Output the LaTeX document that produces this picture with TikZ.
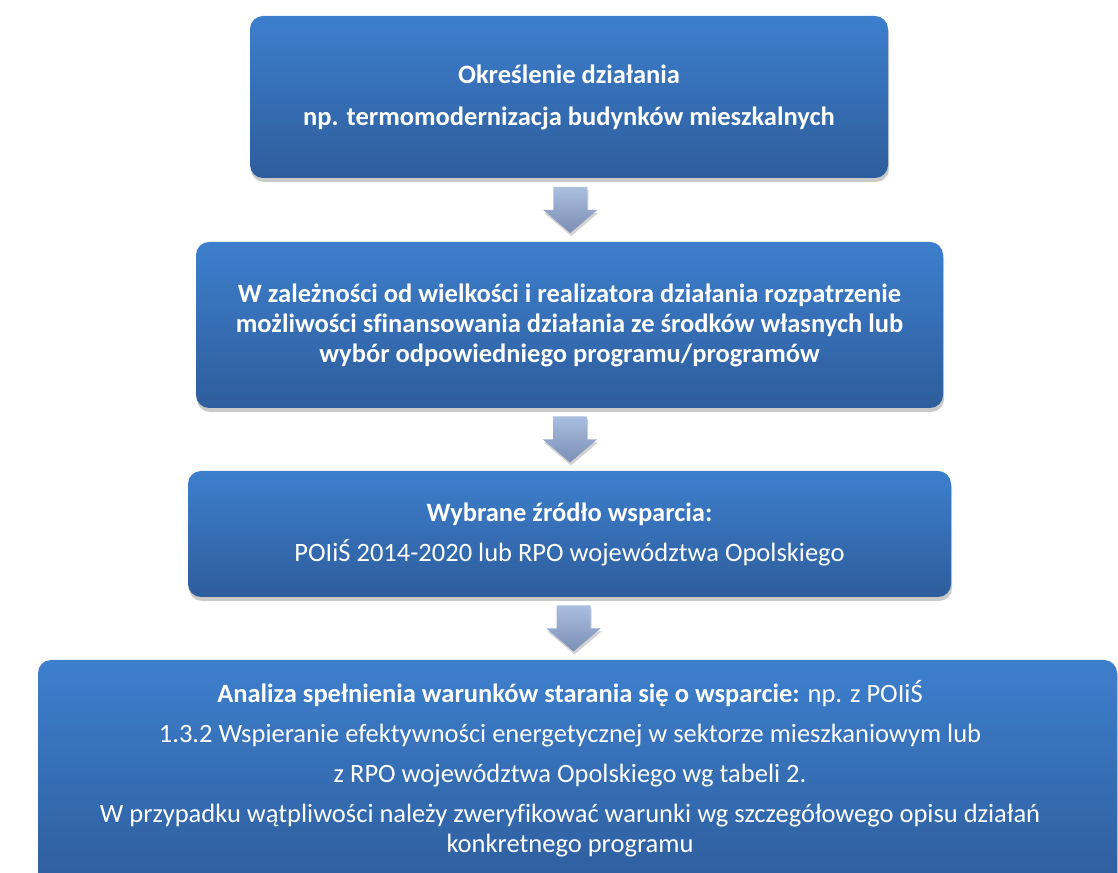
\documentclass[tikz,border=0pt]{standalone}
\usepackage{fontspec}
\setmainfont{Carlito}[Ligatures=NoCommon]
\usetikzlibrary{calc,shadows}
\definecolor{btop}{RGB}{61,127,205}
\definecolor{bbot}{RGB}{46,93,156}
\definecolor{atop}{RGB}{170,190,224}
\definecolor{abot}{RGB}{124,142,180}
\tikzset{
  flowbox/.style={rounded corners=13pt, top color=btop, bottom color=bbot,
    text=white, align=center, inner sep=0pt,
    font=\fontsize{26.5}{30}\selectfont,
    drop shadow={shadow xshift=1pt, shadow yshift=-4pt, opacity=0.3, fill=black!70}},
  blockarrow/.style={top color=atop, bottom color=abot, draw=none,
    drop shadow={shadow xshift=1pt, shadow yshift=-3pt, opacity=0.25, fill=black!70}},
  boxtext/.style={text=white, align=center, font=\fontsize{26.5}{30}\selectfont, inner sep=0pt}
}
\begin{document}
\begin{tikzpicture}[x=1pt,y=1pt]
\useasboundingbox (0,0) rectangle (1118,872);
\node[flowbox, minimum width=638pt, minimum height=162pt] (b1) at (569,775)
  {\textbf{Określenie działania}\\[12pt]\textbf{np. termomodernizacja budynków mieszkalnych}};
\node[flowbox, minimum width=747pt, minimum height=166pt] (b2) at (569.5,547)
  {\textbf{W zależności od wielkości i realizatora działania rozpatrzenie}\\
   \textbf{możliwości sfinansowania działania ze środków własnych lub}\\
   \textbf{wybór odpowiedniego programu/programów}};
\node[flowbox, minimum width=763pt, minimum height=126pt] (b3) at (569.5,338)
  {\textbf{Wybrane źródło wsparcia:}\\[10pt]POIiŚ 2014-2020 lub RPO województwa Opolskiego};
\node[flowbox, minimum width=1079pt, minimum height=232pt] (b4) at (577.5,96) {};
\node[boxtext] (t4) at ($(b4.north)+(-7.5,-109)$)
  {\textbf{Analiza spełnienia warunków starania się o wsparcie:} np. z POIiŚ\\[10pt]
   1.3.2 Wspieranie efektywności energetycznej w sektorze mieszkaniowym lub\\[10pt]
   z RPO województwa Opolskiego wg tabeli 2.\\[10pt]
   W przypadku wątpliwości należy zweryfikować warunki wg szczegółowego opisu działań\\
   konkretnego programu};
\coordinate (a1) at ($(b1.south)!0.5!(b2.north)+(1,0)$);
\coordinate (a2) at ($(b2.south)!0.5!(b3.north)+(0.5,0)$);
\coordinate (a3) at ($(b3.south)!0.5!(b4.north)$);
\foreach \a in {a1,a2,a3}{
  \shade[blockarrow] ($(\a)+(-17,23)$) -- ($(\a)+(17,23)$) -- ($(\a)+(17,0)$)
    -- ($(\a)+(27,0)$) -- ($(\a)+(0,-23)$) -- ($(\a)+(-27,0)$) -- ($(\a)+(-17,0)$) -- cycle;
}
\end{tikzpicture}
\end{document}
